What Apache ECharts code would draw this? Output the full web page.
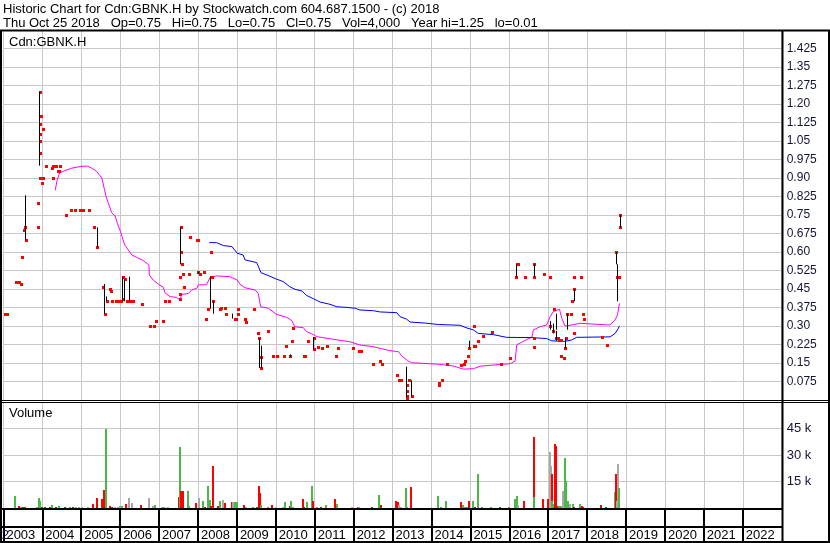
<!DOCTYPE html>
<html>
<head>
<meta charset="utf-8">
<title>Cdn:GBNK.H</title>
<script src="https://cdn.jsdelivr.net/npm/echarts@6/dist/echarts.min.js"></script>
<style>
html,body{margin:0;padding:0;background:#fff;}
#chart{width:830px;height:543px;}
</style>
</head>
<body>
<div id="chart"></div>
<script>
var headLine1 = 'Historic Chart for Cdn:GBNK.H by Stockwatch.com 604.687.1500 - (c) 2018'
var headLine2 = 'Thu Oct 25 2018   Op=0.75   Hi=0.75   Lo=0.75   Cl=0.75   Vol=4,000   Year hi=1.25   lo=0.01'
var symbolName = 'Cdn:GBNK.H'
var volumeName = 'Volume'

var years = [2003,2004,2005,2006,2007,2008,2009,2010,2011,2012,2013,2014,2015,2016,2017,2018,2019,2020,2021,2022]
var priceTicks = ['0.075','0.15','0.225','0.30','0.375','0.45','0.525','0.60','0.675','0.75','0.825','0.90','0.975','1.05','1.125','1.20','1.275','1.35','1.425']
var volTicks = ['15 k','30 k','45 k']

// [year, high, low] - daily ranges drawn as black bars
var rangeBars = [
	[2003.56,0.83,0.65],[2003.92,1.25,0.95],[2005.41,0.70,0.62],[2005.59,0.47,0.35],[2005.64,0.42,0.40],
	[2006.06,0.50,0.40],[2006.11,0.49,0.40],[2006.24,0.50,0.40],[2007.55,0.70,0.55],[2008.01,0.52,0.51],
	[2008.30,0.50,0.37],[2008.39,0.40,0.35],[2008.88,0.35,0.33],[2009.58,0.25,0.13],[2009.61,0.22,0.13],
	[2010.37,0.185,0.175],[2010.95,0.255,0.205],[2013.35,0.135,0.01],[2013.48,0.08,0.015],[2014.97,0.24,0.21],
	[2016.18,0.55,0.50],[2016.64,0.55,0.50],[2017.05,0.32,0.285],[2017.12,0.31,0.27],[2017.20,0.28,0.24],
	[2017.21,0.35,0.285],[2017.43,0.25,0.21],[2017.47,0.35,0.285],[2017.65,0.45,0.40],
	[2018.73,0.60,0.55],[2018.77,0.55,0.40],[2018.84,0.75,0.70]
]

// [year, close] - red close markers
var closeDots = [
	[2003.04,0.35],[2003.09,0.35],[2003.32,0.48],[2003.41,0.48],[2003.44,0.47],[2003.48,0.58],[2003.53,0.69],
	[2003.56,0.70],[2003.58,0.65],[2003.88,0.80],[2003.88,0.70],[2003.94,1.25],[2003.96,1.15],[2003.94,1.12],
	[2004.01,1.10],[2003.94,1.08],[2003.94,1.05],[2003.94,1.00],[2003.95,0.90],[2004.01,0.90],[2003.98,0.88],
	[2004.09,0.95],[2004.27,0.95],[2004.35,0.95],[2004.45,0.95],[2004.24,0.94],[2004.40,0.93],[2004.43,0.93],
	[2004.27,0.90],[2004.60,0.75],[2004.73,0.77],[2004.83,0.77],[2004.97,0.77],[2005.04,0.77],[2005.19,0.77],
	[2005.32,0.70],[2005.41,0.62],[2005.56,0.46],[2005.61,0.35],[2005.66,0.40],[2005.74,0.45],[2005.77,0.44],
	[2005.79,0.40],[2005.89,0.40],[2005.93,0.40],[2005.96,0.40],[2006.00,0.40],[2006.03,0.40],[2006.17,0.40],
	[2006.25,0.40],[2006.32,0.40],[2006.08,0.50],[2006.12,0.49],[2006.08,0.41],[2006.55,0.39],[2006.76,0.30],
	[2006.86,0.30],[2006.91,0.32],[2007.09,0.32],[2007.15,0.40],[2007.25,0.40],
	[2007.56,0.70],[2007.56,0.60],[2007.60,0.55],[2007.54,0.50],[2007.62,0.51],[2007.63,0.46],[2007.54,0.43],
	[2007.54,0.41],[2007.77,0.51],[2007.79,0.66],[2007.97,0.65],[2008.00,0.65],[2008.01,0.52],[2008.05,0.51],
	[2008.15,0.52],[2008.21,0.33],[2008.26,0.37],[2008.33,0.50],[2008.36,0.50],[2008.33,0.60],[2008.39,0.40],
	[2008.56,0.37],[2008.58,0.375],[2008.69,0.375],[2008.71,0.35],[2008.94,0.33],[2008.97,0.33],[2009.03,0.37],
	[2009.03,0.35],[2009.20,0.33],[2009.23,0.315],[2009.43,0.37],[2009.54,0.27],[2009.56,0.25],[2009.61,0.175],
	[2009.61,0.13],[2009.79,0.28],[2009.93,0.18],[2010.03,0.18],[2010.20,0.18],[2010.25,0.22],[2010.37,0.18],
	[2010.41,0.24],[2010.43,0.29],[2010.72,0.18],[2010.75,0.18],[2010.82,0.24],[2010.97,0.25],[2010.97,0.205],
	[2011.08,0.215],[2011.19,0.21],[2011.32,0.22],[2011.55,0.18],[2011.60,0.21],[2011.98,0.21],[2012.15,0.20],
	[2012.19,0.20],[2012.49,0.145],[2012.68,0.16],[2012.73,0.145],[2013.11,0.10],[2013.16,0.08],[2013.21,0.08],
	[2013.37,0.06],[2013.37,0.035],[2013.37,0.015],[2013.37,0.01],[2013.41,0.08],[2013.50,0.015],
	[2014.19,0.07],[2014.19,0.06],[2014.26,0.08],[2014.39,0.145],[2014.76,0.14],[2014.83,0.145],[2014.86,0.16],
	[2014.94,0.18],[2014.97,0.21],[2015.09,0.30],[2015.10,0.22],[2015.13,0.22],[2015.20,0.24],[2015.32,0.26],
	[2015.56,0.275],[2015.78,0.145],[2016.02,0.17],[2016.20,0.55],[2016.22,0.55],[2016.18,0.50],[2016.40,0.50],
	[2016.64,0.55],[2016.63,0.50],[2016.63,0.25],[2016.63,0.215],[2016.89,0.51],[2017.05,0.50],
	[2017.05,0.30],[2017.12,0.28],[2017.15,0.37],[2017.20,0.25],[2017.24,0.25],[2017.29,0.245],[2017.33,0.245],
	[2017.32,0.18],[2017.40,0.17],[2017.43,0.21],[2017.46,0.25],[2017.48,0.35],[2017.59,0.35],[2017.61,0.40],
	[2017.66,0.45],[2017.66,0.27],[2017.66,0.50],[2017.84,0.50],[2017.89,0.35],[2017.92,0.33],
	[2018.38,0.255],[2018.51,0.225],[2018.75,0.60],[2018.78,0.50],[2018.81,0.50],[2018.84,0.70],[2018.84,0.75]
]

// magenta average
var maFast = [
	[2004.33,0.85],[2004.38,0.89],[2004.44,0.92],[2004.58,0.93],[2004.76,0.94],[2004.92,0.945],[2005.04,0.948],
	[2005.16,0.948],[2005.27,0.94],[2005.40,0.926],[2005.53,0.90],[2005.59,0.858],[2005.64,0.824],[2005.70,0.797],
	[2005.78,0.76],[2005.87,0.746],[2005.93,0.716],[2006.01,0.682],[2006.07,0.652],[2006.12,0.628],[2006.21,0.608],
	[2006.30,0.588],[2006.43,0.578],[2006.60,0.565],[2006.74,0.547],[2006.75,0.507],[2006.85,0.486],[2006.98,0.47],
	[2007.11,0.457],[2007.15,0.435],[2007.28,0.419],[2007.45,0.416],[2007.54,0.405],[2007.58,0.428],[2007.75,0.432],
	[2007.84,0.446],[2007.97,0.453],[2008.01,0.467],[2008.22,0.467],[2008.31,0.497],[2008.48,0.503],[2008.82,0.50],
	[2009.01,0.486],[2009.08,0.469],[2009.21,0.455],[2009.47,0.446],[2009.55,0.432],[2009.61,0.378],[2009.81,0.372],
	[2010.02,0.347],[2010.28,0.335],[2010.41,0.322],[2010.49,0.297],[2010.71,0.293],[2010.79,0.277],[2010.96,0.266],
	[2011.05,0.257],[2011.48,0.246],[2011.91,0.236],[2012.16,0.223],[2012.51,0.216],[2012.93,0.20],[2013.15,0.196],
	[2013.24,0.178],[2013.39,0.159],[2013.49,0.151],[2013.96,0.147],[2014.18,0.145],[2014.22,0.138],[2014.56,0.138],
	[2014.82,0.125],[2015.08,0.127],[2015.25,0.137],[2015.76,0.144],[2016.02,0.147],[2016.15,0.158],[2016.19,0.223],
	[2016.36,0.238],[2016.58,0.255],[2016.62,0.284],[2016.79,0.297],[2016.96,0.304],[2017.05,0.338],[2017.13,0.358],
	[2017.29,0.368],[2017.35,0.331],[2017.43,0.30],[2017.60,0.304],[2017.82,0.311],[2018.12,0.308],[2018.59,0.304],
	[2018.72,0.325],[2018.78,0.345],[2018.83,0.392]
]

// blue average
var maSlow = [
	[2008.29,0.638],[2008.48,0.638],[2008.65,0.626],[2008.87,0.622],[2009.01,0.595],[2009.16,0.588],[2009.21,0.568],
	[2009.51,0.557],[2009.62,0.516],[2009.77,0.507],[2010.02,0.49],[2010.19,0.48],[2010.36,0.459],[2010.49,0.449],
	[2010.67,0.442],[2010.79,0.424],[2010.96,0.411],[2011.14,0.397],[2011.39,0.388],[2011.57,0.378],[2011.78,0.376],
	[2012.04,0.372],[2012.16,0.365],[2012.51,0.362],[2012.68,0.357],[2013.11,0.354],[2013.19,0.338],[2013.36,0.328],
	[2013.45,0.316],[2013.83,0.312],[2014.18,0.306],[2014.22,0.303],[2014.73,0.303],[2014.91,0.292],[2015.08,0.284],
	[2015.20,0.27],[2015.25,0.266],[2015.59,0.265],[2015.93,0.254],[2016.58,0.253],[2016.96,0.249],[2017.09,0.24],
	[2017.39,0.237],[2017.60,0.243],[2017.73,0.254],[2018.59,0.256],[2018.72,0.27],[2018.80,0.29],[2018.83,0.30]
]

// [year, shares, kind] kind: up / dn / eq
var volumes = [
	[2003.30,6900,'up'],[2003.40,1200,'dn'],[2003.45,800,'up'],[2003.50,700,'dn'],[2003.56,600,'dn'],
	[2003.86,800,'up'],[2003.91,5600,'up'],[2003.95,4000,'up'],[2003.98,600,'dn'],[2004.07,800,'dn'],
	[2004.20,700,'dn'],[2004.24,1700,'up'],[2004.35,400,'dn'],[2004.43,1200,'up'],
	[2004.58,800,'dn'],[2004.71,700,'up'],[2004.80,700,'dn'],[2004.87,700,'eq'],[2004.95,700,'eq'],[2005.02,700,'eq'],
	[2005.18,400,'eq'],[2005.29,2100,'dn'],[2005.40,5900,'dn'],[2005.53,5000,'dn'],[2005.59,10400,'dn'],[2005.64,45000,'up'],
	[2005.74,1000,'dn'],[2005.79,400,'dn'],[2005.87,700,'eq'],[2005.94,700,'eq'],[2006.00,1200,'eq'],[2006.04,1200,'up'],
	[2006.15,2500,'dn'],[2006.23,5900,'eq'],[2006.31,3000,'eq'],[2006.53,1500,'dn'],[2006.74,5400,'eq'],[2006.84,1200,'eq'],
	[2006.90,1700,'up'],[2007.07,400,'eq'],[2007.13,600,'up'],[2007.22,600,'eq'],
	[2007.52,6300,'dn'],[2007.54,34800,'up'],[2007.56,9800,'dn'],[2007.61,9400,'dn'],[2007.74,9400,'up'],[2007.77,1200,'up'],
	[2007.95,3000,'dn'],[2008.03,5900,'eq'],[2008.12,4000,'up'],[2008.18,600,'dn'],[2008.27,12700,'up'],[2008.31,4400,'up'],
	[2008.34,1200,'dn'],[2008.38,23700,'dn'],[2008.52,900,'dn'],[2008.57,4000,'up'],[2008.65,4600,'eq'],[2008.69,2700,'dn'],
	[2008.88,3400,'dn'],[2008.91,3400,'eq'],[2008.95,3400,'up'],[2009.00,3400,'up'],
	[2009.19,1500,'dn'],[2009.23,400,'eq'],[2009.42,700,'up'],[2009.52,700,'dn'],[2009.57,12700,'dn'],[2009.60,8500,'dn'],
	[2009.62,1500,'up'],[2009.79,700,'up'],[2009.91,1700,'dn'],[2010.00,700,'eq'],[2010.18,400,'eq'],[2010.24,3400,'up'],
	[2010.37,1000,'dn'],[2010.40,4000,'up'],[2010.44,700,'up'],[2010.69,5000,'dn'],[2010.72,700,'dn'],[2010.79,3200,'up'],
	[2010.92,12700,'up'],[2010.95,4000,'dn'],[2011.05,700,'up'],[2011.15,700,'dn'],[2011.28,1500,'up'],
	[2011.51,5000,'dn'],[2011.56,2300,'up'],[2011.95,700,'eq'],[2012.11,700,'dn'],[2012.15,700,'eq'],[2012.46,700,'dn'],
	[2012.65,7300,'up'],[2012.70,1500,'dn'],[2013.08,4000,'dn'],[2013.13,3600,'dn'],[2013.17,1500,'eq'],[2013.21,700,'eq'],
	[2013.34,11300,'up'],[2013.38,700,'up'],[2013.47,12100,'dn'],[2014.16,6900,'up'],[2014.24,700,'up'],[2014.38,4000,'up'],
	[2014.75,3200,'dn'],[2014.82,1700,'up'],[2014.85,700,'up'],[2014.91,700,'up'],[2014.96,4000,'dn'],[2015.06,4000,'up'],
	[2015.11,700,'dn'],[2015.19,19400,'up'],[2015.30,700,'up'],[2015.52,700,'up'],[2015.76,700,'dn'],[2015.99,700,'up'],
	[2016.15,5000,'up'],[2016.19,6900,'up'],[2016.22,1700,'eq'],[2016.39,4000,'dn'],[2016.63,40000,'dn'],[2016.64,6300,'up'],
	[2016.86,5000,'dn'],[2016.99,5000,'dn'],[2017.04,31500,'eq'],[2017.06,23600,'eq'],[2017.09,19400,'dn'],[2017.11,4000,'up'],
	[2017.13,2300,'up'],[2017.17,36300,'dn'],[2017.20,35200,'dn'],[2017.25,1000,'dn'],[2017.29,1000,'up'],[2017.32,1000,'up'],
	[2017.38,9400,'eq'],[2017.43,28400,'up'],[2017.46,15200,'up'],[2017.50,4000,'up'],[2017.57,2300,'eq'],[2017.63,2300,'up'],
	[2017.65,700,'dn'],[2017.82,2300,'up'],[2017.86,1200,'dn'],[2017.89,700,'dn'],[2018.35,1700,'dn'],[2018.49,700,'dn'],
	[2018.71,9200,'up'],[2018.74,19400,'dn'],[2018.76,4000,'eq'],[2018.79,24800,'eq'],[2018.82,11300,'up']
]

var volColors = {up:'#4cb848', dn:'#ff0000', eq:'#a8a8a8'}
var font = "'Liberation Sans', Arial, sans-serif"
var gridColor = '#c8c8c8'
var labelColor = '#141438'

var chart = echarts.init(document.getElementById('chart'))

function rangeItem(params, api){
	var p1 = api.coord([api.value(0), api.value(1)])
	var p2 = api.coord([api.value(0), api.value(2)])
	var x = Math.round(p1[0]) + 0.5
	return {
		type:'line',
		shape:{x1:x, y1:p1[1], x2:x, y2:p2[1]},
		style:{stroke:'#000', lineWidth:1}
	}
}

// close markers as crisp little squares
function dotItem(params, api){
	var p = api.coord([api.value(0), api.value(1)])
	return {
		type:'rect',
		shape:{x:Math.round(p[0]) - 1, y:Math.round(p[1]) - 1, width:3, height:3},
		style:{fill:'#ff0000'}
	}
}

function volItem(params, api){
	var top = api.coord([api.value(0), api.value(1)])
	var base = api.coord([api.value(0), 0])
	return {
		type:'rect',
		shape:{x:Math.round(top[0]) - 1, y:Math.round(top[1]), width:2, height:base[1] - Math.round(top[1])},
		style:{fill:volColors[volumes[params.dataIndex][2]]}
	}
}

function box(x, y, w, h){
	return {type:'rect', shape:{x:x, y:y, width:w, height:h}, style:{fill:'#000'}, z:100}
}

function label(x, y, text, size){
	return {type:'text', x:x, y:y, z:100, style:{text:text, font:size + 'px ' + font, fill:'#000', textVerticalAlign:'middle'}}
}

chart.setOption({
	animation:false,
	backgroundColor:'#fff',
	grid:[
		{left:3.4, right:48.3, top:30, height:370},
		{left:3.4, right:48.3, top:402, height:106}
	],
	xAxis:[
		{
			gridIndex:0, type:'value', min:2003, max:2023, interval:1,
			axisLine:{show:false}, axisTick:{show:false}, axisLabel:{show:false},
			splitLine:{show:true, lineStyle:{color:gridColor, width:1}}
		},
		{
			gridIndex:1, type:'value', min:2003, max:2023, interval:1,
			axisLine:{show:false},
			axisTick:{show:true, length:33, lineStyle:{color:'#000', width:2}},
			axisLabel:{
				show:true, margin:21, align:'left', verticalAlign:'top', padding:[0,0,0,3],
				fontFamily:font, fontSize:13, color:'#000', showMaxLabel:false, hideOverlap:false,
				formatter:function(v){ return years.indexOf(Math.round(v)) >= 0 ? String(Math.round(v)) : '' }
			},
			splitLine:{show:true, lineStyle:{color:gridColor, width:1}}
		}
	],
	yAxis:[
		{
			gridIndex:0, type:'value', position:'right', min:0, max:1.5, interval:0.075,
			axisLine:{show:false}, axisTick:{show:false},
			axisLabel:{
				margin:5, fontFamily:font, fontSize:12, color:labelColor,
				formatter:function(v){
					var i = Math.round(v / 0.075)
					return (i >= 1 && i <= priceTicks.length) ? priceTicks[i - 1] : ''
				}
			},
			splitLine:{show:true, lineStyle:{color:gridColor, width:1}}
		},
		{
			gridIndex:1, type:'value', position:'right', min:0, max:60000, interval:15000,
			axisLine:{show:false}, axisTick:{show:false},
			axisLabel:{
				margin:5, fontFamily:font, fontSize:13, color:labelColor,
				formatter:function(v){
					var i = Math.round(v / 15000)
					return (i >= 1 && i <= volTicks.length) ? volTicks[i - 1] : ''
				}
			},
			splitLine:{show:true, lineStyle:{color:gridColor, width:1}}
		}
	],
	series:[
		{
			type:'line', xAxisIndex:0, yAxisIndex:0, data:maFast, showSymbol:false,
			lineStyle:{color:'#ff00ff', width:1}, z:2
		},
		{
			type:'line', xAxisIndex:0, yAxisIndex:0, data:maSlow, showSymbol:false,
			lineStyle:{color:'#0000ff', width:1}, z:2
		},
		{
			type:'custom', xAxisIndex:0, yAxisIndex:0, data:closeDots,
			renderItem:dotItem, encode:{x:0, y:1}, z:3
		},
		{
			type:'custom', xAxisIndex:0, yAxisIndex:0, data:rangeBars,
			renderItem:rangeItem, encode:{x:0, y:[1,2]}, z:4
		},
		{
			type:'custom', xAxisIndex:1, yAxisIndex:1,
			data:volumes.map(function(d){ return [d[0], d[1]] }),
			renderItem:volItem, encode:{x:0, y:1}, z:3
		}
	],
	graphic:[
		label(3, 9, headLine1, 13),
		label(3, 23, headLine2, 13),
		label(9, 42, symbolName, 13),
		label(9, 413, volumeName, 13),
		{type:'text', x:9, y:535, z:99, style:{text:'2002', font:'13px ' + font, fill:'#1a0a40', textAlign:'right', textVerticalAlign:'middle'}},
		box(0, 29.5, 830, 2),
		box(0, 30, 2, 513),
		box(828, 30, 2, 513),
		box(0, 541, 830, 2),
		box(781.5, 30, 2, 513),
		box(0, 400, 830, 1),
		box(0, 402, 830, 1),
		box(0, 508, 782, 2),
		box(0, 526, 782, 2)
	]
})
</script>
</body>
</html>
